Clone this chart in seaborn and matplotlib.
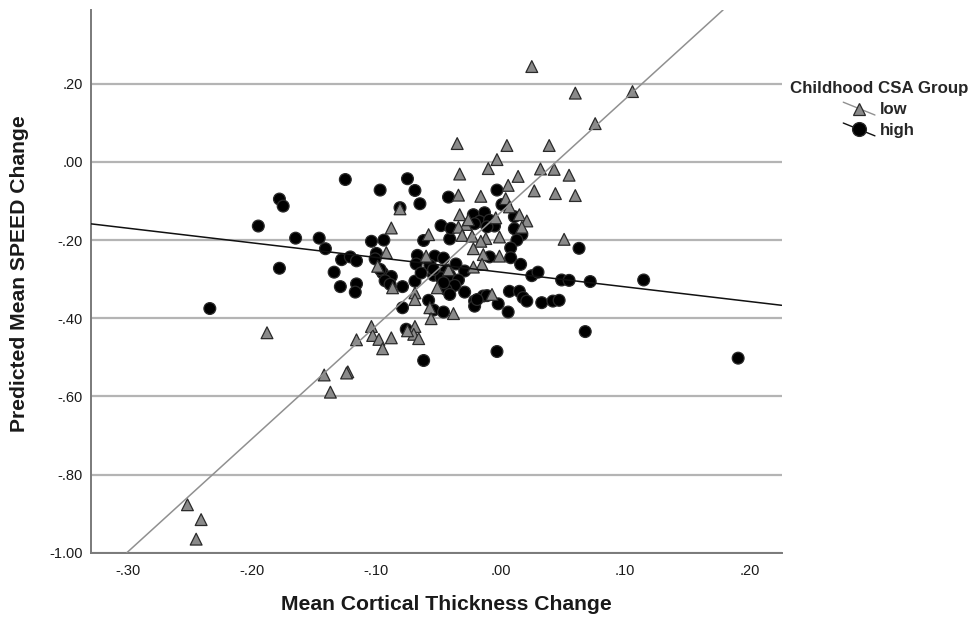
import numpy as np
import pandas as pd
import matplotlib
matplotlib.use("Agg")
import matplotlib.pyplot as plt
import seaborn as sns
from matplotlib.lines import Line2D
from matplotlib.legend_handler import HandlerBase
from matplotlib.ticker import FuncFormatter

# ---------------- data ----------------
low_x = [0.025, 0.060, 0.106, 0.076, -0.035, 0.005, 0.039, -0.003, -0.010, 0.032,
         0.043, 0.055, 0.014, -0.033, 0.006, -0.034, -0.016, 0.027, 0.044, 0.060,
         0.004, 0.007, -0.033, 0.015, 0.021, -0.004, -0.028, -0.034, 0.017, -0.088,
         -0.058, -0.031, -0.023, -0.012, -0.001, -0.016, 0.051, -0.092, -0.060, -0.022,
         -0.014, -0.001, -0.015, -0.022, -0.081, -0.099, -0.087, -0.069, -0.069, -0.051,
         -0.057, -0.056, -0.038, -0.007, -0.188, -0.104, -0.103, -0.116, -0.098, -0.088,
         -0.095, -0.069, -0.070, -0.066, -0.075, -0.142, -0.123, -0.124, -0.137, -0.252,
         -0.241, -0.245, -0.042, -0.026]
low_y = [0.244, 0.176, 0.180, 0.098, 0.047, 0.042, 0.042, 0.006, -0.017, -0.018,
         -0.019, -0.034, -0.037, -0.031, -0.060, -0.085, -0.088, -0.074, -0.081, -0.086,
         -0.094, -0.115, -0.135, -0.135, -0.151, -0.143, -0.160, -0.167, -0.167, -0.169,
         -0.186, -0.188, -0.190, -0.196, -0.192, -0.203, -0.198, -0.232, -0.241, -0.222,
         -0.237, -0.241, -0.262, -0.269, -0.120, -0.267, -0.322, -0.335, -0.352, -0.322,
         -0.373, -0.401, -0.388, -0.339, -0.437, -0.421, -0.444, -0.455, -0.454, -0.450,
         -0.478, -0.421, -0.441, -0.452, -0.432, -0.545, -0.537, -0.540, -0.589, -0.877,
         -0.915, -0.965, -0.276, -0.148]

high_x = [-0.125, -0.075, -0.097, -0.069, -0.178, -0.175, -0.081, -0.065, -0.042, -0.003,
          0.001, -0.195, -0.165, -0.146, -0.141, -0.104, -0.094, -0.062, -0.041, -0.128,
          -0.121, -0.116, -0.100, -0.101, -0.178, -0.134, -0.129, -0.116, -0.117, -0.095,
          -0.088, -0.093, -0.089, -0.234, -0.079, -0.058, -0.054, -0.069, -0.079, -0.076,
          -0.062, -0.067, -0.068, -0.053, -0.046, -0.057, -0.036, -0.029, -0.044, -0.064,
          -0.054, -0.048, -0.041, -0.034, -0.037, -0.044, -0.041, -0.029, -0.046, -0.046,
          -0.048, -0.040, -0.022, -0.013, 0.011, -0.017, -0.009, -0.005, -0.011, 0.011,
          0.017, 0.013, 0.008, 0.063, 0.008, -0.009, 0.016, 0.025, 0.030, 0.049,
          0.055, 0.072, 0.115, 0.007, 0.015, 0.018, 0.021, 0.033, 0.042, 0.047,
          -0.021, -0.021, -0.014, -0.011, -0.002, 0.006, 0.068, -0.003, 0.191, -0.097,
          -0.054, -0.019, -0.021]
high_y = [-0.045, -0.043, -0.072, -0.073, -0.095, -0.113, -0.117, -0.107, -0.090, -0.072,
          -0.109, -0.164, -0.195, -0.195, -0.222, -0.203, -0.200, -0.201, -0.197, -0.250,
          -0.243, -0.253, -0.234, -0.248, -0.272, -0.282, -0.319, -0.312, -0.333, -0.284,
          -0.293, -0.304, -0.313, -0.375, -0.373, -0.354, -0.379, -0.305, -0.319, -0.428,
          -0.508, -0.239, -0.261, -0.241, -0.246, -0.264, -0.261, -0.279, -0.277, -0.284,
          -0.290, -0.296, -0.290, -0.302, -0.316, -0.326, -0.339, -0.333, -0.309, -0.384,
          -0.163, -0.170, -0.135, -0.130, -0.140, -0.152, -0.149, -0.164, -0.166, -0.171,
          -0.186, -0.200, -0.220, -0.221, -0.245, -0.243, -0.262, -0.291, -0.282, -0.302,
          -0.303, -0.306, -0.302, -0.331, -0.331, -0.347, -0.356, -0.360, -0.356, -0.354,
          -0.356, -0.369, -0.343, -0.342, -0.363, -0.384, -0.434, -0.485, -0.502, -0.275,
          -0.275, -0.352, -0.158]

group_labels = ["low", "high"]
# fit lines (intercept, slope)
low_fit = [-0.129, 2.895]
high_fit = [-0.282, -0.375]

x_ticks = [-0.30, -0.20, -0.10, 0.00, 0.10, 0.20]
y_ticks = [-1.00, -0.80, -0.60, -0.40, -0.20, 0.00, 0.20]

# ---------------- build table ----------------
df = pd.concat([
    pd.DataFrame({"x": high_x, "y": high_y, "grp": "high"}),
    pd.DataFrame({"x": low_x, "y": low_y, "grp": "low"}),
], ignore_index=True)

sns.set_theme(style="white")
plt.rcParams["font.family"] = ["Liberation Sans", "DejaVu Sans"]

fig = plt.figure(figsize=(9.71, 6.17), dpi=100)
ax = fig.add_axes([0.0937, 0.104, 0.7113, 0.880])

tri_fill = "#8a8a8a"
palette = {"low": tri_fill, "high": "#000000"}
markers = {"low": "^", "high": "o"}

sns.scatterplot(data=df, x="x", y="y", hue="grp", style="grp",
                palette=palette, markers=markers, s=72,
                edgecolor="#2a2a2a", linewidth=0.9, legend=False, ax=ax, zorder=3)

ax.axline((0, low_fit[0]), slope=low_fit[1], color="#909090", lw=1.1, zorder=4)
ax.axline((0, high_fit[0]), slope=high_fit[1], color="#111111", lw=1.1, zorder=4)

ax.set_xlim(-0.3296, 0.226)
ax.set_ylim(-1.0, 0.389)
ax.set_xticks(x_ticks)
ax.set_yticks(y_ticks)

def fmt(v, pos):
    s = f"{v:.2f}"
    s = s.replace("-0.", "-.")
    if s.startswith("0."):
        s = s[1:]
    return s

ax.xaxis.set_major_formatter(FuncFormatter(fmt))
ax.yaxis.set_major_formatter(FuncFormatter(fmt))
ax.tick_params(axis="both", length=0, labelsize=10.5, colors="#1a1a1a")
ax.tick_params(axis="x", pad=8)
ax.tick_params(axis="y", pad=6)

ax.grid(axis="y", color="#b4b4b4", lw=1.6, zorder=0)
ax.grid(axis="x", visible=False)
ax.set_axisbelow(True)
for sp in ["top", "right"]:
    ax.spines[sp].set_visible(False)
for sp in ["left", "bottom"]:
    ax.spines[sp].set_color("#7a7a7a")
    ax.spines[sp].set_linewidth(1.4)

ax.set_xlabel("Mean Cortical Thickness Change", fontsize=15.2, fontweight="bold", color="#1a1a1a")
ax.set_ylabel("Predicted Mean SPEED Change", fontsize=15.2, fontweight="bold", color="#1a1a1a")
ax.xaxis.set_label_coords(0.514, -0.078)
ax.yaxis.set_label_coords(-0.090, 0.515)


class HandlerDiag(HandlerBase):
    def __init__(self, marker, mfc, lc, ms):
        super().__init__()
        self.marker, self.mfc, self.lc, self.ms = marker, mfc, lc, ms

    def create_artists(self, legend, orig_handle, xdescent, ydescent, width, height, fontsize, trans):
        x0, x1 = -xdescent, -xdescent + width
        y0, y1 = -ydescent - 0.1 * height, -ydescent + 1.0 * height
        ln = Line2D([x0, x1], [y1, y0], color=self.lc, lw=1.0, transform=trans)
        mk = Line2D([(x0 + x1) / 2], [(y0 + y1) / 2], marker=self.marker, ms=self.ms,
                    mfc=self.mfc, mec="#2a2a2a", mew=0.9, ls="none", transform=trans)
        return [ln, mk]


h_low = Line2D([], [])
h_high = Line2D([], [])
leg = fig.legend([h_low, h_high], group_labels, title="Childhood CSA Group",
                 loc="upper left", bbox_to_anchor=(0.798, 0.893), frameon=False,
                 handler_map={h_low: HandlerDiag("^", tri_fill, "#909090", 9),
                              h_high: HandlerDiag("o", "#000000", "#111111", 10)},
                 handlelength=1.9, handletextpad=0.3, labelspacing=0.35,
                 prop={"weight": "bold", "size": 12},
                 title_fontproperties={"weight": "bold", "size": 12.2})

fig.savefig("out.png", dpi=100)
